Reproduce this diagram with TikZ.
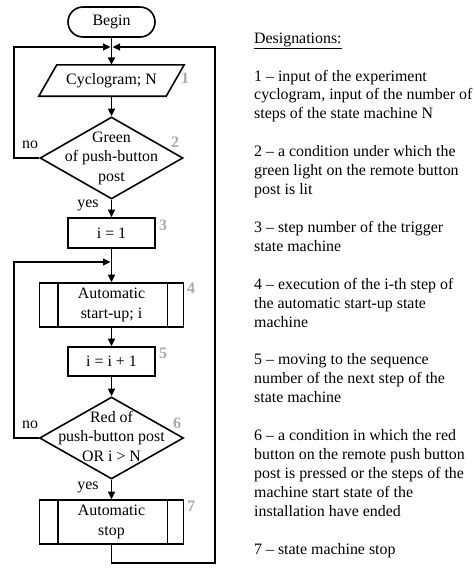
\documentclass[tikz,border=0pt]{standalone}
\usepackage{fontspec}
\setmainfont{Liberation Serif}
\usetikzlibrary{arrows.meta,shapes.geometric}
\newcommand\zbox[1]{\makebox[0pt]{\smash{\raisebox{-4pt}{\begin{tabular}[c]{@{}c@{}}#1\end{tabular}}}}}
\begin{document}
\begin{tikzpicture}[x=1pt,y=-1pt,
  every node/.style={font=\fontsize{15.9}{19.5}\selectfont, inner sep=0pt},
  ln/.style={line width=1.6pt, line join=miter},
  arr/.style={ln, -{Triangle[length=7.5pt,width=7pt]}},
  term/.style={draw, ln, rounded corners=15pt, minimum width=87pt, minimum height=30pt},
  proc/.style={draw, ln, minimum width=87pt, minimum height=30pt, align=center},
  pred/.style={draw, ln, minimum width=144pt, minimum height=44pt, align=center},
  dec/.style={draw, ln, diamond, minimum width=143pt, minimum height=82pt},
  io/.style={minimum width=127pt, minimum height=31pt},
  num/.style={font=\fontsize{16}{19}\selectfont\bfseries, text=black!33},
  lab/.style={},
  desc/.style={align=left, anchor=north west, font=\fontsize{15.9}{18.92}\selectfont}
]
\useasboundingbox (0,0) rectangle (474,570);

% nodes
\node[term] (begin) at (111.5,22) {Begin};
\node[io] (p1) at (111.5,80.5) {Cyclogram; N};
\draw[ln] ([xshift=-9pt]p1.south west) -- ([xshift=9pt]p1.north west) -- ([xshift=9pt]p1.north east) -- ([xshift=-9pt]p1.south east) -- cycle;
\node[dec] (d2) at (111.5,158) {\zbox{Green\\ of push-button\\ post}};
\node[proc] (b3) at (111.5,233) {i = 1};
\node[pred] (b4) at (111.5,305) {Automatic\\ start-up; i};
\node[proc, minimum height=29pt] (b5) at (111.5,361.5) {i = i + 1};
\node[dec, minimum width=144pt] (d6) at (111.5,438) {\zbox{Red of\\ push-button post\\ OR i {>} N}};
\node[pred] (b7) at (111.5,522) {Automatic\\ stop};
\foreach \b in {b4,b7}{
  \draw[ln] ([xshift=19pt]\b.north west) -- ([xshift=19pt]\b.south west);
  \draw[ln] ([xshift=-17pt]\b.north east) -- ([xshift=-17pt]\b.south east);
}

% numbers
\node[num] (n1) at (185,78) {1};
\node[num] (n2) at (175,142) {2};
\node[num] (n3) at (163,225) {3};
\node[num] (n4) at (191,288) {4};
\node[num] (n5) at (163,353) {5};
\node[num] (n6) at (177,423) {6};
\node[num] (n7) at (191,506) {7};

% branch labels
\node[lab] (no1) at (30,145) {no};
\node[lab] (yes1) at (88,205) {yes};
\node[lab] (no2) at (30,425) {no};
\node[lab] (yes2) at (88,487) {yes};

% coordinates
\coordinate (m1) at (111.5,47);
\coordinate (m2) at (111.5,262);
\coordinate (L) at (14,0);
\coordinate (R) at (215,563);

% connectors
\draw[arr] (begin) -- (p1);
\draw[arr] (p1) -- (d2);
\draw[arr] (d2) -- (b3);
\draw[arr] (b3) -- (b4);
\draw[arr] (b4) -- (b5);
\draw[arr] (b5) -- (d6);
\draw[arr] (d6) -- (b7);
\draw[arr, shorten >=1pt] (d2.west) -| (L |- m1) -- (m1);
\draw[arr, shorten >=1pt] (d6.west) -| (L |- m2) -- (m2);
\draw[arr, shorten >=1pt] (b7.south) |- (R) |- (m1);

% designations
\node[desc] (legend) at (254,32.5) {\underline{Designations:}\\[18.92pt]
1 -- input of the experiment\\
cyclogram, input of the number of\\
steps of the state machine N\\[18.92pt]
2 -- a condition under which the\\
green light on the remote button\\
post is lit\\[18.92pt]
3 -- step number of the trigger\\
state machine\\[18.92pt]
4 -- execution of the i-th step of\\
the automatic start-up state\\
machine\\[18.92pt]
5 -- moving to the sequence\\
number of the next step of the\\
state machine\\[18.92pt]
6 -- a condition in which the red\\
button on the remote push button\\
post is pressed or the steps of the\\
machine start state of the\\
installation have ended\\[18.92pt]
7 -- state machine stop};
\end{tikzpicture}
\end{document}
